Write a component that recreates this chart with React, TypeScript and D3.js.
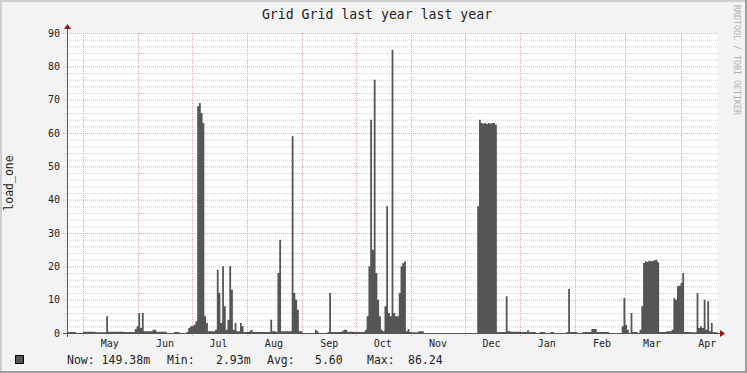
import * as d3 from "d3";

// rrd samples, one value per day, split by season
const aprToJun: [string, number][] = [
  ["2022-04-22", 0.3], ["2022-04-27", 0], ["2022-05-01", 0.4], ["2022-05-08", 0.2],
  ["2022-05-14", 5], ["2022-05-15", 0.4], ["2022-05-24", 0.3], ["2022-05-30", 1.2],
  ["2022-05-31", 2], ["2022-06-01", 6], ["2022-06-02", 1.5], ["2022-06-03", 6],
  ["2022-06-04", 0.5], ["2022-06-09", 1], ["2022-06-11", 0.4], ["2022-06-17", 0],
  ["2022-06-21", 0.3], ["2022-06-24", 0], ["2022-06-28", 0.4], ["2022-06-29", 1.5],
  ["2022-06-30", 2],
];

const julToSep: [string, number][] = [
  ["2022-07-01", 2], ["2022-07-02", 2.5], ["2022-07-03", 3.5], ["2022-07-04", 68],
  ["2022-07-05", 69], ["2022-07-06", 66], ["2022-07-07", 63], ["2022-07-08", 5],
  ["2022-07-09", 3], ["2022-07-10", 0.5], ["2022-07-14", 1], ["2022-07-15", 19],
  ["2022-07-16", 12], ["2022-07-17", 3], ["2022-07-18", 20], ["2022-07-19", 8],
  ["2022-07-20", 1], ["2022-07-21", 4], ["2022-07-22", 20], ["2022-07-23", 13],
  ["2022-07-24", 1], ["2022-07-25", 3], ["2022-07-26", 0.5], ["2022-07-28", 3],
  ["2022-07-29", 2], ["2022-07-30", 0.3], ["2022-08-02", 0.5], ["2022-08-03", 1],
  ["2022-08-04", 0.3], ["2022-08-13", 0.3], ["2022-08-14", 4], ["2022-08-15", 0.5],
  ["2022-08-17", 0.3], ["2022-08-18", 18], ["2022-08-19", 28], ["2022-08-20", 0.5],
  ["2022-08-25", 0.5], ["2022-08-26", 59], ["2022-08-27", 12], ["2022-08-28", 10],
  ["2022-08-29", 7], ["2022-08-30", 0.5], ["2022-09-01", 0], ["2022-09-08", 1],
  ["2022-09-09", 0.5], ["2022-09-10", 0], ["2022-09-15", 0.3], ["2022-09-16", 12],
  ["2022-09-17", 0.3], ["2022-09-23", 0.5], ["2022-09-24", 1], ["2022-09-26", 0.4],
  ["2022-09-30", 0.3],
];

const octToDec: [string, number][] = [
  ["2022-10-01", 0.3], ["2022-10-06", 1], ["2022-10-07", 5], ["2022-10-08", 20],
  ["2022-10-09", 64], ["2022-10-10", 25], ["2022-10-11", 76], ["2022-10-12", 18],
  ["2022-10-13", 10], ["2022-10-14", 5], ["2022-10-15", 1], ["2022-10-16", 0.5],
  ["2022-10-17", 8], ["2022-10-18", 38], ["2022-10-19", 6], ["2022-10-20", 5],
  ["2022-10-21", 85], ["2022-10-22", 6], ["2022-10-23", 5], ["2022-10-24", 5],
  ["2022-10-25", 12], ["2022-10-26", 20], ["2022-10-27", 21], ["2022-10-28", 21.5],
  ["2022-10-29", 0.5], ["2022-10-30", 1.2], ["2022-10-31", 0.3], ["2022-11-01", 0.2],
  ["2022-11-05", 0.5], ["2022-11-08", 0], ["2022-12-08", 38], ["2022-12-09", 64],
  ["2022-12-10", 63], ["2022-12-11", 62.8], ["2022-12-12", 63], ["2022-12-13", 62.7],
  ["2022-12-14", 63], ["2022-12-15", 62.8], ["2022-12-16", 63], ["2022-12-17", 63],
  ["2022-12-18", 62.5], ["2022-12-19", 0.3], ["2022-12-24", 11], ["2022-12-25", 0.5],
  ["2022-12-27", 0.4],
];

const janToApr: [string, number][] = [
  ["2023-01-01", 0.3], ["2023-01-05", 0.8], ["2023-01-06", 0.3], ["2023-01-10", 0],
  ["2023-01-12", 0.3], ["2023-01-15", 0], ["2023-01-18", 0.3], ["2023-01-20", 0],
  ["2023-01-27", 0.3], ["2023-01-28", 13.2], ["2023-01-29", 0.3], ["2023-02-02", 0],
  ["2023-02-05", 0.3], ["2023-02-10", 1.2], ["2023-02-13", 0.3], ["2023-02-18", 0.3],
  ["2023-02-20", 0], ["2023-02-27", 2], ["2023-02-28", 10.5], ["2023-03-01", 2.5],
  ["2023-03-02", 1], ["2023-03-03", 0], ["2023-03-04", 6], ["2023-03-05", 0.3],
  ["2023-03-08", 0], ["2023-03-09", 1], ["2023-03-10", 8], ["2023-03-11", 21],
  ["2023-03-12", 21.5], ["2023-03-13", 21.3], ["2023-03-14", 21.7], ["2023-03-15", 21.5],
  ["2023-03-16", 21.6], ["2023-03-17", 21.8], ["2023-03-18", 22], ["2023-03-19", 21.2],
  ["2023-03-20", 0.3], ["2023-03-24", 0.5], ["2023-03-27", 1], ["2023-03-28", 10.5],
  ["2023-03-29", 10], ["2023-03-30", 14], ["2023-03-31", 14.2], ["2023-04-01", 15],
  ["2023-04-02", 18], ["2023-04-03", 0.3], ["2023-04-07", 0.2], ["2023-04-10", 12],
  ["2023-04-11", 1.5], ["2023-04-12", 2], ["2023-04-13", 1.5], ["2023-04-14", 10],
  ["2023-04-15", 1], ["2023-04-16", 9.5], ["2023-04-17", 0.5], ["2023-04-18", 3],
  ["2023-04-19", 0.3], ["2023-04-21", 0.15], ["2023-04-22", 0.15],
];

const yTicks = [0, 10, 20, 30, 40, 50, 60, 70, 80, 90];
const monthLabels = ["May", "Jun", "Jul", "Aug", "Sep", "Oct", "Nov", "Dec", "Jan", "Feb", "Mar", "Apr"];
const legendItems: [string, number][] = [
  ["Now: 149.38m", 67], ["Min:", 167], ["2.93m", 216], ["Avg:", 267],
  ["5.60", 315], ["Max:", 367], ["86.24", 408],
];

const W = 747;
const H = 373;
const left = 67, right = 718, top = 33, bottom = 333;
const mono = "'DejaVu Sans Mono', monospace";

export default function App() {
  const parse = d3.timeParse("%Y-%m-%d");
  const data = [...aprToJun, ...julToSep, ...octToDec, ...janToApr].map(([d, v]) => ({
    date: parse(d)!,
    value: v,
  }));

  const x = d3
    .scaleTime()
    .domain([parse("2022-04-22")!, parse("2023-04-22")!])
    .range([left, right]);
  const y = d3.scaleLinear().domain([0, 90]).range([bottom, top]);

  const area = d3
    .area<{ date: Date; value: number }>()
    .x((d) => x(d.date))
    .y0(y(0))
    .y1((d) => y(d.value))
    .curve(d3.curveStepAfter);

  const months = d3.timeMonth.range(parse("2022-05-01")!, parse("2023-04-02")!);
  const minor = d3.range(0, 91, 2).filter((v) => v % 10 !== 0);

  return (
    <svg
      width={W}
      height={H}
      style={{ position: "absolute", left: 0, top: 0, display: "block" }}
    >
      <rect width={W} height={H} fill="#f3f3f3" />
      <rect x={0} y={0} width={W} height={2} fill="#cfcfcf" />
      <rect x={0} y={0} width={2} height={H} fill="#cfcfcf" />
      <rect x={0} y={H - 2} width={W} height={2} fill="#a0a0a0" />
      <rect x={W - 2} y={0} width={2} height={H} fill="#a0a0a0" />

      <rect x={left} y={top} width={right - left} height={bottom - top} fill="#fff" />

      {/* minor grid */}
      {minor.map((v) => (
        <line key={"m" + v} x1={left - 2} x2={right} y1={y(v) + 0.5} y2={y(v) + 0.5}
          stroke="#cdcdcd" strokeDasharray="1,1" />
      ))}
      {/* major grid */}
      {yTicks.map((v) => (
        <line key={"M" + v} x1={left - 4} x2={right} y1={y(v) + 0.5} y2={y(v) + 0.5}
          stroke="#eba3a3" strokeDasharray="1,1" />
      ))}
      {months.map((m, i) => (
        <line key={"v" + i} x1={Math.round(x(m)) + 0.5} x2={Math.round(x(m)) + 0.5}
          y1={top} y2={bottom + 3} stroke="#eba3a3" strokeDasharray="1,1" />
      ))}

      <path d={area(data) ?? ""} fill="#555555" />

      {/* axes */}
      <line x1={left + 0.5} x2={left + 0.5} y1={bottom + 4} y2={top - 5} stroke="#555" />
      <line x1={left - 4} x2={right + 3} y1={bottom + 0.5} y2={bottom + 0.5} stroke="#555" />
      <path d={`M${left - 3},${top - 4}L${left + 4},${top - 4}L${left + 0.5},${top - 9}Z`} fill="#a01010" />
      <path d={`M${right + 2},${bottom - 3}L${right + 2},${bottom + 4}L${right + 7},${bottom + 0.5}Z`} fill="#a01010" />

      {yTicks.map((v) => (
        <text key={"t" + v} x={60} y={y(v) + 3.5} textAnchor="end" fontFamily={mono}
          fontSize={10} fill="#222">{v}</text>
      ))}
      {months.map((m, i) => (
        <text key={"l" + i} x={x(d3.timeDay.offset(m, 15))} y={347} textAnchor="middle"
          fontFamily={mono} fontSize={10} fill="#222">{monthLabels[i]}</text>
      ))}

      <text x={377} y={18.5} textAnchor="middle" fontFamily={mono} fontSize={13.2} fill="#222">
        Grid Grid last year last year
      </text>
      <text transform="translate(13,183) rotate(-90)" textAnchor="middle" fontFamily={mono}
        fontSize={11.5} fill="#222">load_one</text>
      <text transform="translate(734,5) rotate(90)" fontFamily={mono} fontSize={8.3}
        fill="#b0b0b0">RRDTOOL / TOBI OETIKER</text>

      <rect x={15.5} y={355.5} width={8} height={8} fill="#555555" stroke="#000" />
      {legendItems.map(([t, px], i) => (
        <text key={"g" + i} x={px} y={363.5} fontFamily={mono} fontSize={11.5}
          fill="#222">{t}</text>
      ))}
    </svg>
  );
}
